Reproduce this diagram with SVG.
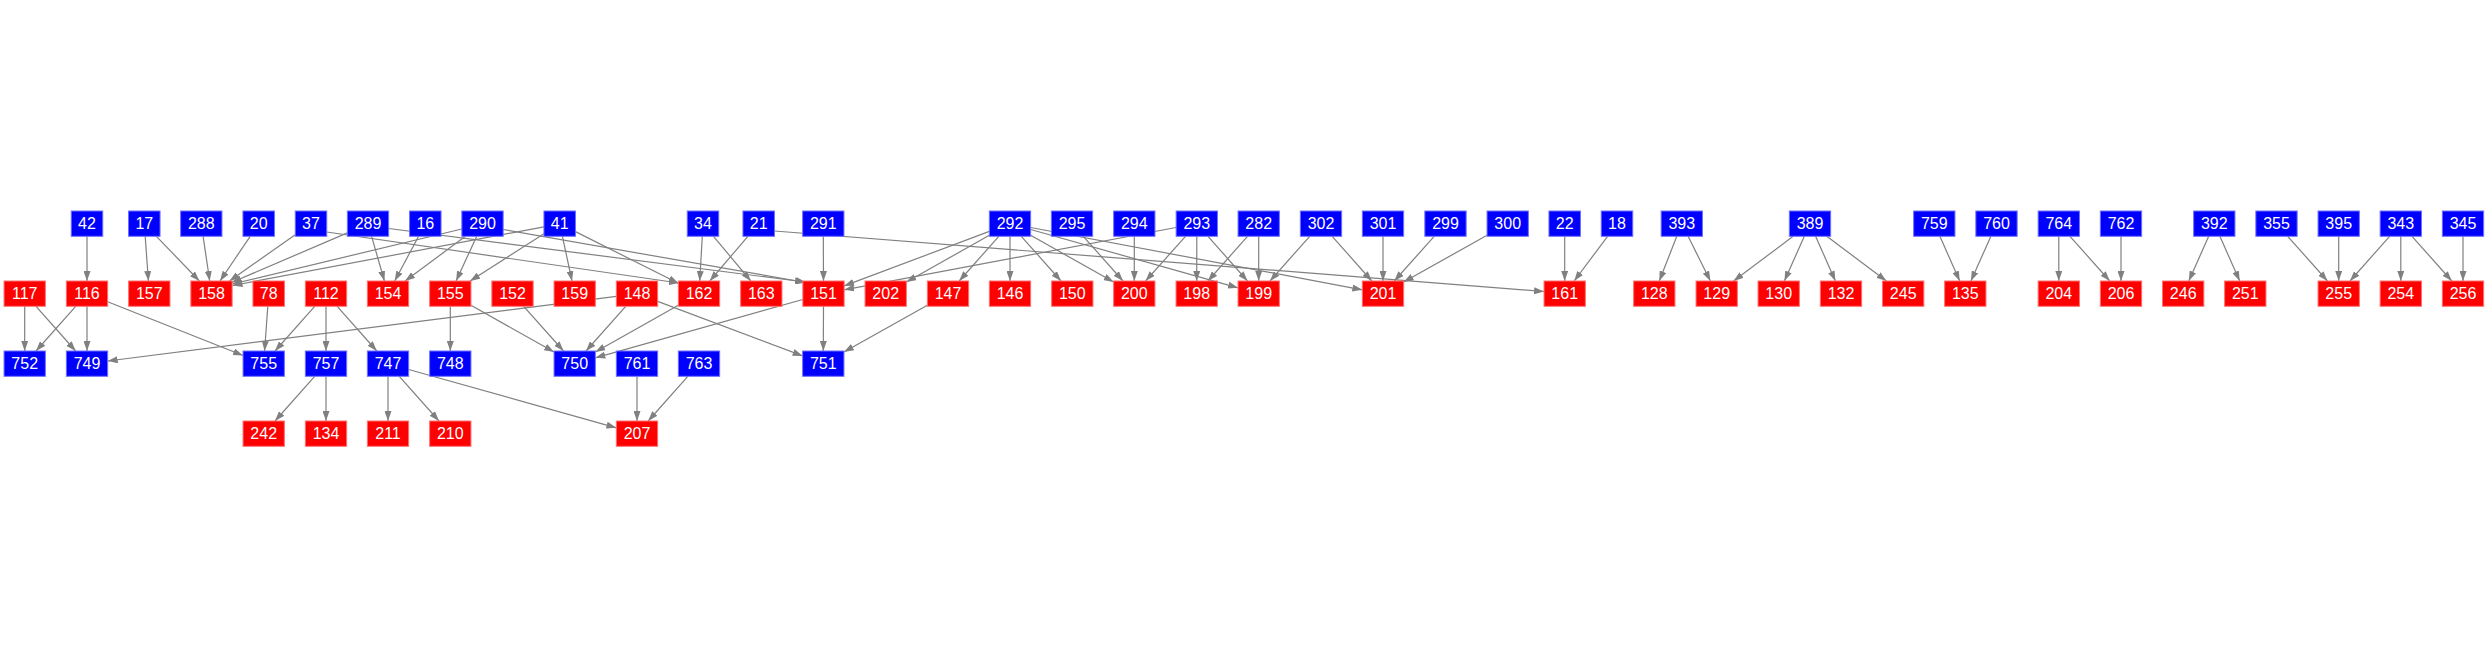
<svg xmlns="http://www.w3.org/2000/svg" width="2488" height="656" viewBox="0 0 2488 656">
<style>
.b{fill:#0000ff;stroke:#6f6fff;stroke-width:1}
.r{fill:#ff0000;stroke:#ff7070;stroke-width:1}
text{font-family:"Liberation Sans",Arial,sans-serif;font-size:16px;fill:#ffffff;stroke:none;text-anchor:middle}
#edges line{stroke:#808080;stroke-width:1.2;fill:none;marker-end:url(#arr)}
</style>
<defs>
<marker id="arr" markerUnits="userSpaceOnUse" markerWidth="10" markerHeight="7" viewBox="0 0 10 7" refX="10" refY="3.5" orient="auto"><path d="M0,0 L10,3.5 L0,7 z" fill="#808080"/></marker>
<rect id="w3" x="-20.65" y="-12.65" width="41.3" height="25.3"/>
<rect id="w2" x="-15.75" y="-12.65" width="31.5" height="25.3"/>
</defs>
<rect width="2488" height="656" fill="#ffffff"/>
<g id="edges">
<line x1="87" y1="236.3" x2="87" y2="281"/>
<line x1="145.2" y1="236.3" x2="148.4" y2="281"/>
<line x1="156.4" y1="236.3" x2="199.4" y2="281"/>
<line x1="203.1" y1="236.3" x2="209.7" y2="281"/>
<line x1="250.2" y1="236.3" x2="220" y2="281"/>
<line x1="295.25" y1="234.7" x2="229.5" y2="281"/>
<line x1="326.75" y1="232" x2="679" y2="283"/>
<line x1="347.35" y1="232.9" x2="231.5" y2="282.5"/>
<line x1="371.6" y1="236.3" x2="384.4" y2="281"/>
<line x1="388.65" y1="228.5" x2="805" y2="282"/>
<line x1="418.6" y1="236.3" x2="394.7" y2="281"/>
<line x1="461.85" y1="229" x2="232.3" y2="284"/>
<line x1="465.4" y1="236.3" x2="405.1" y2="281"/>
<line x1="476.7" y1="236.3" x2="456.1" y2="281"/>
<line x1="503.15" y1="229.5" x2="806" y2="282.5"/>
<line x1="543.95" y1="226.8" x2="232.5" y2="285.5"/>
<line x1="543.95" y1="233.7" x2="470.1" y2="281"/>
<line x1="562.4" y1="236.3" x2="572" y2="281"/>
<line x1="575.45" y1="231.6" x2="678.35" y2="283.3"/>
<line x1="702.3" y1="236.3" x2="699.7" y2="281"/>
<line x1="713.5" y1="236.3" x2="750.8" y2="281"/>
<line x1="747.9" y1="236.3" x2="709.8" y2="281"/>
<line x1="774.45" y1="231" x2="1544.05" y2="291.5"/>
<line x1="823.3" y1="236.3" x2="823.5" y2="281"/>
<line x1="989.35" y1="231.4" x2="844.15" y2="285.9"/>
<line x1="989.35" y1="235.3" x2="906.35" y2="282"/>
<line x1="998.8" y1="236.3" x2="959.2" y2="281"/>
<line x1="1010" y1="236.3" x2="1010" y2="281"/>
<line x1="1021.3" y1="236.3" x2="1061" y2="281"/>
<line x1="1030.65" y1="235.3" x2="1113.65" y2="282"/>
<line x1="1030.65" y1="229.5" x2="1238.05" y2="287.8"/>
<line x1="1030.65" y1="227.5" x2="1362.35" y2="289.8"/>
<line x1="1083.3" y1="236.3" x2="1123" y2="281"/>
<line x1="1134.3" y1="236.3" x2="1134.3" y2="281"/>
<line x1="1176.15" y1="227.5" x2="844.15" y2="289.8"/>
<line x1="1185.5" y1="236.3" x2="1145.6" y2="281"/>
<line x1="1196.8" y1="236.3" x2="1196.7" y2="281"/>
<line x1="1208" y1="236.3" x2="1247.5" y2="281"/>
<line x1="1247.5" y1="236.3" x2="1207.9" y2="281"/>
<line x1="1258.7" y1="236.3" x2="1258.7" y2="281"/>
<line x1="1309.7" y1="236.3" x2="1270" y2="281"/>
<line x1="1332.2" y1="236.3" x2="1371.8" y2="281"/>
<line x1="1383" y1="236.3" x2="1383" y2="281"/>
<line x1="1434.2" y1="236.3" x2="1394.3" y2="281"/>
<line x1="1487.05" y1="235.25" x2="1403.65" y2="282.05"/>
<line x1="1564.7" y1="236.3" x2="1564.7" y2="281"/>
<line x1="1607.6" y1="236.3" x2="1574.2" y2="281"/>
<line x1="1676.8" y1="236.3" x2="1659.3" y2="281"/>
<line x1="1688.1" y1="236.3" x2="1710.4" y2="281"/>
<line x1="1793.1" y1="236.3" x2="1733.6" y2="281"/>
<line x1="1804.3" y1="236.3" x2="1784.4" y2="281"/>
<line x1="1815.6" y1="236.3" x2="1835.4" y2="281"/>
<line x1="1826.8" y1="236.3" x2="1886.4" y2="281"/>
<line x1="1939.9" y1="236.3" x2="1959.7" y2="281"/>
<line x1="1990.9" y1="236.3" x2="1970.9" y2="281"/>
<line x1="2058.8" y1="236.3" x2="2058.8" y2="281"/>
<line x1="2070" y1="236.3" x2="2109.8" y2="281"/>
<line x1="2121" y1="236.3" x2="2121" y2="281"/>
<line x1="2208.7" y1="236.3" x2="2188.8" y2="281"/>
<line x1="2219.9" y1="236.3" x2="2239.7" y2="281"/>
<line x1="2287.7" y1="236.3" x2="2327.5" y2="281"/>
<line x1="2338.7" y1="236.3" x2="2338.7" y2="281"/>
<line x1="2389.6" y1="236.3" x2="2350" y2="281"/>
<line x1="2400.8" y1="236.3" x2="2400.8" y2="281"/>
<line x1="2412" y1="236.3" x2="2451.8" y2="281"/>
<line x1="2463" y1="236.3" x2="2463" y2="281"/>
<line x1="24.7" y1="306.3" x2="24.7" y2="351"/>
<line x1="36" y1="306.3" x2="75.7" y2="351"/>
<line x1="75.7" y1="306.3" x2="36" y2="351"/>
<line x1="87" y1="306.3" x2="87" y2="351"/>
<line x1="107.65" y1="301.8" x2="243.05" y2="355.5"/>
<line x1="267.8" y1="306.3" x2="264.6" y2="351"/>
<line x1="314.7" y1="306.3" x2="275" y2="351"/>
<line x1="326" y1="306.3" x2="326" y2="351"/>
<line x1="337.2" y1="306.3" x2="376.8" y2="351"/>
<line x1="450.3" y1="306.3" x2="450.3" y2="351"/>
<line x1="470.95" y1="305.3" x2="554.05" y2="352"/>
<line x1="523.7" y1="306.3" x2="563.5" y2="351"/>
<line x1="616.35" y1="296.3" x2="107.65" y2="361"/>
<line x1="625.7" y1="306.3" x2="586" y2="351"/>
<line x1="657.65" y1="301.4" x2="802.65" y2="355.9"/>
<line x1="678.35" y1="305.3" x2="595.35" y2="352"/>
<line x1="802.85" y1="299.5" x2="595.35" y2="357.8"/>
<line x1="823.5" y1="306.3" x2="823.3" y2="351"/>
<line x1="927.35" y1="305.25" x2="843.95" y2="352.05"/>
<line x1="314.7" y1="376.3" x2="275" y2="421"/>
<line x1="326" y1="376.3" x2="326" y2="421"/>
<line x1="388" y1="376.3" x2="388" y2="421"/>
<line x1="399.3" y1="376.3" x2="439" y2="421"/>
<line x1="408.65" y1="369.5" x2="616.35" y2="427.8"/>
<line x1="637" y1="376.3" x2="637" y2="421"/>
<line x1="687.8" y1="376.3" x2="648.2" y2="421"/>
</g>
<g id="n42" class="b" transform="translate(87,223.65)"><use href="#w2"/><text y="5.7">42</text></g>
<g id="n17" class="b" transform="translate(144.3,223.65)"><use href="#w2"/><text y="5.7">17</text></g>
<g id="n288" class="b" transform="translate(201.3,223.65)"><use href="#w3"/><text y="5.7">288</text></g>
<g id="n20" class="b" transform="translate(258.7,223.65)"><use href="#w2"/><text y="5.7">20</text></g>
<g id="n37" class="b" transform="translate(311,223.65)"><use href="#w2"/><text y="5.7">37</text></g>
<g id="n289" class="b" transform="translate(368,223.65)"><use href="#w3"/><text y="5.7">289</text></g>
<g id="n16" class="b" transform="translate(425.3,223.65)"><use href="#w2"/><text y="5.7">16</text></g>
<g id="n290" class="b" transform="translate(482.5,223.65)"><use href="#w3"/><text y="5.7">290</text></g>
<g id="n41" class="b" transform="translate(559.7,223.65)"><use href="#w2"/><text y="5.7">41</text></g>
<g id="n34" class="b" transform="translate(703,223.65)"><use href="#w2"/><text y="5.7">34</text></g>
<g id="n21" class="b" transform="translate(758.7,223.65)"><use href="#w2"/><text y="5.7">21</text></g>
<g id="n291" class="b" transform="translate(823.3,223.65)"><use href="#w3"/><text y="5.7">291</text></g>
<g id="n292" class="b" transform="translate(1010,223.65)"><use href="#w3"/><text y="5.7">292</text></g>
<g id="n295" class="b" transform="translate(1072,223.65)"><use href="#w3"/><text y="5.7">295</text></g>
<g id="n294" class="b" transform="translate(1134.3,223.65)"><use href="#w3"/><text y="5.7">294</text></g>
<g id="n293" class="b" transform="translate(1196.8,223.65)"><use href="#w3"/><text y="5.7">293</text></g>
<g id="n282" class="b" transform="translate(1258.7,223.65)"><use href="#w3"/><text y="5.7">282</text></g>
<g id="n302" class="b" transform="translate(1321,223.65)"><use href="#w3"/><text y="5.7">302</text></g>
<g id="n301" class="b" transform="translate(1383,223.65)"><use href="#w3"/><text y="5.7">301</text></g>
<g id="n299" class="b" transform="translate(1445.5,223.65)"><use href="#w3"/><text y="5.7">299</text></g>
<g id="n300" class="b" transform="translate(1507.7,223.65)"><use href="#w3"/><text y="5.7">300</text></g>
<g id="n22" class="b" transform="translate(1564.7,223.65)"><use href="#w2"/><text y="5.7">22</text></g>
<g id="n18" class="b" transform="translate(1617,223.65)"><use href="#w2"/><text y="5.7">18</text></g>
<g id="n393" class="b" transform="translate(1681.8,223.65)"><use href="#w3"/><text y="5.7">393</text></g>
<g id="n389" class="b" transform="translate(1810,223.65)"><use href="#w3"/><text y="5.7">389</text></g>
<g id="n759" class="b" transform="translate(1934.3,223.65)"><use href="#w3"/><text y="5.7">759</text></g>
<g id="n760" class="b" transform="translate(1996.5,223.65)"><use href="#w3"/><text y="5.7">760</text></g>
<g id="n764" class="b" transform="translate(2058.8,223.65)"><use href="#w3"/><text y="5.7">764</text></g>
<g id="n762" class="b" transform="translate(2121,223.65)"><use href="#w3"/><text y="5.7">762</text></g>
<g id="n392" class="b" transform="translate(2214.3,223.65)"><use href="#w3"/><text y="5.7">392</text></g>
<g id="n355" class="b" transform="translate(2276.5,223.65)"><use href="#w3"/><text y="5.7">355</text></g>
<g id="n395" class="b" transform="translate(2338.7,223.65)"><use href="#w3"/><text y="5.7">395</text></g>
<g id="n343" class="b" transform="translate(2400.8,223.65)"><use href="#w3"/><text y="5.7">343</text></g>
<g id="n345" class="b" transform="translate(2463,223.65)"><use href="#w3"/><text y="5.7">345</text></g>
<g id="n117" class="r" transform="translate(24.7,293.65)"><use href="#w3"/><text y="5.7">117</text></g>
<g id="n116" class="r" transform="translate(87,293.65)"><use href="#w3"/><text y="5.7">116</text></g>
<g id="n157" class="r" transform="translate(149.3,293.65)"><use href="#w3"/><text y="5.7">157</text></g>
<g id="n158" class="r" transform="translate(211.5,293.65)"><use href="#w3"/><text y="5.7">158</text></g>
<g id="n78" class="r" transform="translate(268.7,293.65)"><use href="#w2"/><text y="5.7">78</text></g>
<g id="n112" class="r" transform="translate(326,293.65)"><use href="#w3"/><text y="5.7">112</text></g>
<g id="n154" class="r" transform="translate(388,293.65)"><use href="#w3"/><text y="5.7">154</text></g>
<g id="n155" class="r" transform="translate(450.3,293.65)"><use href="#w3"/><text y="5.7">155</text></g>
<g id="n152" class="r" transform="translate(512.5,293.65)"><use href="#w3"/><text y="5.7">152</text></g>
<g id="n159" class="r" transform="translate(574.7,293.65)"><use href="#w3"/><text y="5.7">159</text></g>
<g id="n148" class="r" transform="translate(637,293.65)"><use href="#w3"/><text y="5.7">148</text></g>
<g id="n162" class="r" transform="translate(699,293.65)"><use href="#w3"/><text y="5.7">162</text></g>
<g id="n163" class="r" transform="translate(761.3,293.65)"><use href="#w3"/><text y="5.7">163</text></g>
<g id="n151" class="r" transform="translate(823.5,293.65)"><use href="#w3"/><text y="5.7">151</text></g>
<g id="n202" class="r" transform="translate(885.7,293.65)"><use href="#w3"/><text y="5.7">202</text></g>
<g id="n147" class="r" transform="translate(948,293.65)"><use href="#w3"/><text y="5.7">147</text></g>
<g id="n146" class="r" transform="translate(1010,293.65)"><use href="#w3"/><text y="5.7">146</text></g>
<g id="n150" class="r" transform="translate(1072.3,293.65)"><use href="#w3"/><text y="5.7">150</text></g>
<g id="n200" class="r" transform="translate(1134.3,293.65)"><use href="#w3"/><text y="5.7">200</text></g>
<g id="n198" class="r" transform="translate(1196.7,293.65)"><use href="#w3"/><text y="5.7">198</text></g>
<g id="n199" class="r" transform="translate(1258.7,293.65)"><use href="#w3"/><text y="5.7">199</text></g>
<g id="n201" class="r" transform="translate(1383,293.65)"><use href="#w3"/><text y="5.7">201</text></g>
<g id="n161" class="r" transform="translate(1564.7,293.65)"><use href="#w3"/><text y="5.7">161</text></g>
<g id="n128" class="r" transform="translate(1654.3,293.65)"><use href="#w3"/><text y="5.7">128</text></g>
<g id="n129" class="r" transform="translate(1716.7,293.65)"><use href="#w3"/><text y="5.7">129</text></g>
<g id="n130" class="r" transform="translate(1778.7,293.65)"><use href="#w3"/><text y="5.7">130</text></g>
<g id="n132" class="r" transform="translate(1841,293.65)"><use href="#w3"/><text y="5.7">132</text></g>
<g id="n245" class="r" transform="translate(1903.2,293.65)"><use href="#w3"/><text y="5.7">245</text></g>
<g id="n135" class="r" transform="translate(1965.3,293.65)"><use href="#w3"/><text y="5.7">135</text></g>
<g id="n204" class="r" transform="translate(2058.8,293.65)"><use href="#w3"/><text y="5.7">204</text></g>
<g id="n206" class="r" transform="translate(2121,293.65)"><use href="#w3"/><text y="5.7">206</text></g>
<g id="n246" class="r" transform="translate(2183.2,293.65)"><use href="#w3"/><text y="5.7">246</text></g>
<g id="n251" class="r" transform="translate(2245.3,293.65)"><use href="#w3"/><text y="5.7">251</text></g>
<g id="n255" class="r" transform="translate(2338.7,293.65)"><use href="#w3"/><text y="5.7">255</text></g>
<g id="n254" class="r" transform="translate(2400.8,293.65)"><use href="#w3"/><text y="5.7">254</text></g>
<g id="n256" class="r" transform="translate(2463,293.65)"><use href="#w3"/><text y="5.7">256</text></g>
<g id="n752" class="b" transform="translate(24.7,363.65)"><use href="#w3"/><text y="5.7">752</text></g>
<g id="n749" class="b" transform="translate(87,363.65)"><use href="#w3"/><text y="5.7">749</text></g>
<g id="n755" class="b" transform="translate(263.7,363.65)"><use href="#w3"/><text y="5.7">755</text></g>
<g id="n757" class="b" transform="translate(326,363.65)"><use href="#w3"/><text y="5.7">757</text></g>
<g id="n747" class="b" transform="translate(388,363.65)"><use href="#w3"/><text y="5.7">747</text></g>
<g id="n748" class="b" transform="translate(450.3,363.65)"><use href="#w3"/><text y="5.7">748</text></g>
<g id="n750" class="b" transform="translate(574.7,363.65)"><use href="#w3"/><text y="5.7">750</text></g>
<g id="n761" class="b" transform="translate(637,363.65)"><use href="#w3"/><text y="5.7">761</text></g>
<g id="n763" class="b" transform="translate(699,363.65)"><use href="#w3"/><text y="5.7">763</text></g>
<g id="n751" class="b" transform="translate(823.3,363.65)"><use href="#w3"/><text y="5.7">751</text></g>
<g id="n242" class="r" transform="translate(263.7,433.65)"><use href="#w3"/><text y="5.7">242</text></g>
<g id="n134" class="r" transform="translate(326,433.65)"><use href="#w3"/><text y="5.7">134</text></g>
<g id="n211" class="r" transform="translate(388,433.65)"><use href="#w3"/><text y="5.7">211</text></g>
<g id="n210" class="r" transform="translate(450.3,433.65)"><use href="#w3"/><text y="5.7">210</text></g>
<g id="n207" class="r" transform="translate(637,433.65)"><use href="#w3"/><text y="5.7">207</text></g>
</svg>
